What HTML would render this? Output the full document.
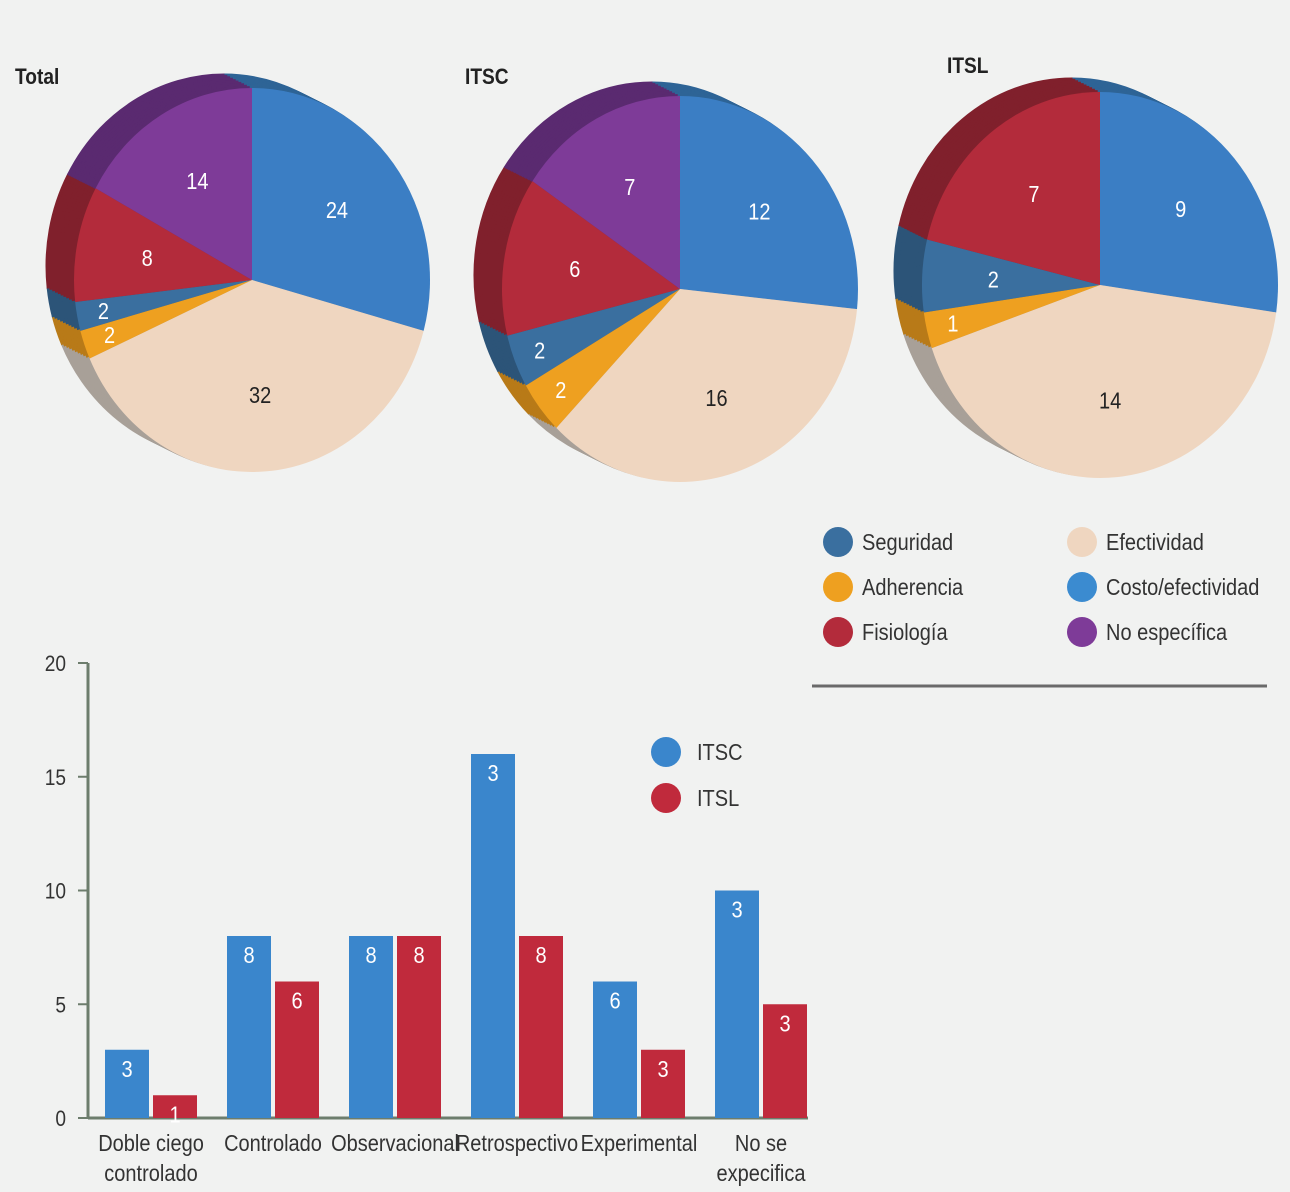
<!DOCTYPE html>
<html><head><meta charset="utf-8"><style>
html,body{margin:0;padding:0;background:#f1f2f1;}
svg{display:block;font-family:"Liberation Sans Narrow","Liberation Sans",sans-serif;}
</style></head><body>
<svg id="root" width="1290" height="1192" viewBox="0 0 1290 1192" xmlns="http://www.w3.org/2000/svg">
<rect width="1290" height="1192" fill="#f1f2f1"/>
<g id="pies"></g>
<g id="legend"></g>
<line x1="812" y1="686" x2="1267" y2="686" stroke="#6a6a6a" stroke-width="3"/>
<g id="bars"></g>
</svg>
<script>
// ---- pie data ----
const pieCategories = ["Costo/efectividad","Efectividad","Adherencia","Seguridad","Fisiología","No específica"];
const pieTotal = [24,32,2,2,8,14];
const pieITSC = [12,16,2,2,6,7];
const pieITSL = [9,14,1,2,7,0];
const pieTitles = ["Total","ITSC","ITSL"];
// ---- bar data ----
const barCategories = [["Doble ciego","controlado"],["Controlado"],["Observacional"],["Retrospectivo"],["Experimental"],["No se","expecifica"]];
const barITSC = [3,8,8,16,6,10];
const barITSL = [1,6,8,8,3,5];
const labelITSC = ["3","8","8","3","6","3"];
const labelITSL = ["1","6","8","8","3","3"];
const yTicks = [0,5,10,15,20];

const NS="http://www.w3.org/2000/svg";
const SX=0.87;
function mk(tag,attrs,parent){const e=document.createElementNS(NS,tag);for(const k in attrs)e.setAttribute(k,attrs[k]);parent.appendChild(e);return e;}
function txt(x,y,str,attrs,parent){
  const a=Object.assign({x:0,y:0,transform:`translate(${x},${y}) scale(${SX},1)`},attrs);
  const t=mk('text',a,parent);t.textContent=str;return t;
}
const faceCol={"Costo/efectividad":"#3b7ec4","Efectividad":"#efd6c0","Adherencia":"#eea020","Seguridad":"#3a6f9f","Fisiología":"#b32b3b","No específica":"#7e3b98"};
const sideCol={"Costo/efectividad":"#2e6496","Efectividad":"#a8a098","Adherencia":"#b87a18","Seguridad":"#2c5478","Fisiología":"#80202c","No específica":"#5a2a70"};
const textCol={"Efectividad":"#222"};

const pieGeom=[{cx:252,cy:280,rx:178,ry:192,tx:15,ty:84},{cx:680,cy:289,rx:178,ry:193,tx:465,ty:84},{cx:1100,cy:285,rx:178,ry:193,tx:947,ty:73}];
const pieData=[pieTotal,pieITSC,pieITSL];
const pies=document.getElementById('pies');
function wedge(g,cx,cy,rx,ry,a0,a1,fill,name){
  const p=(a)=>[cx+rx*Math.sin(a),cy-ry*Math.cos(a)];
  const [x0,y0]=p(a0),[x1,y1]=p(a1);
  const large=(a1-a0)>Math.PI?1:0;
  const el=mk('path',{d:`M${cx},${cy}L${x0},${y0}A${rx},${ry} 0 ${large} 1 ${x1},${y1}Z`,fill:fill},g);
  
  
  return el;
}
pieData.forEach((vals,pi)=>{
  const G=pieGeom[pi];
  const g=mk('g',{},pies);
  
  
  const tot=vals.reduce((a,b)=>a+b,0);
  for(let s=10;s>=1;s--){
    const dx=-28*s/10,dy=-14*s/10;
    let a=0;
    vals.forEach((v,i)=>{ if(!v)return; const a1=a+v/tot*2*Math.PI;
      const el=wedge(g,G.cx+dx,G.cy+dy,G.rx,G.ry,a,a1,sideCol[pieCategories[i]],'pie-side');
      el.setAttribute('stroke',sideCol[pieCategories[i]]);a=a1;});
  }
  let a=0;
  vals.forEach((v,i)=>{ if(!v)return; const a1=a+v/tot*2*Math.PI;
    wedge(g,G.cx,G.cy,G.rx,G.ry,a,a1,faceCol[pieCategories[i]],'slice-'+pieCategories[i].toLowerCase().replace(/[^a-zñí]+/g,'-'));
    const m=(a+a1)/2, fr=v/tot<0.05?0.85:0.6;
    const t=txt(G.cx+G.rx*fr*Math.sin(m),G.cy-G.ry*fr*Math.cos(m)+8,String(v),{'text-anchor':'middle','font-size':23,fill:textCol[pieCategories[i]]||'#fff'},g);
    
    
    a=a1;});
  const tt=txt(G.tx,G.ty,pieTitles[pi],{'font-size':22,'font-weight':'bold',fill:'#222'},g);
  
  
});
// legend
const legOrder=["Seguridad","Efectividad","Adherencia","Costo/efectividad","Fisiología","No específica"];
const leg=document.getElementById('legend');
legOrder.forEach((c,i)=>{
  const col=i%2,row=Math.floor(i/2);
  const x=col?1082:838,y=542+row*45;
  const g=mk('g',{},leg);
  
  
  mk('circle',{cx:x,cy:y,r:15,fill:c==="Costo/efectividad"?"#3b8bd0":faceCol[c]},g);
  txt(x+24,y+8,c,{'font-size':23,fill:'#333'},g);
});
// bar chart
const bars=document.getElementById('bars');
const y0=1118,pxPer=22.75,axX=88;
const yS=v=>y0-v*pxPer;
const groupStart=151, groupStep=122;
const xC=i=>groupStart+i*groupStep;
const bw=44;
mk('line',{x1:axX,y1:yS(20),x2:axX,y2:y0,stroke:'#6d7d6d','stroke-width':3},bars);
mk('line',{x1:axX,y1:y0,x2:808,y2:y0,stroke:'#6d7d6d','stroke-width':3},bars);
yTicks.forEach(v=>{
  mk('line',{x1:axX-10,y1:yS(v),x2:axX,y2:yS(v),stroke:'#6d7d6d','stroke-width':2},bars);
  const t=txt(66,yS(v)+8,String(v),{'text-anchor':'end','font-size':22,fill:'#333'},bars);
  
  
});
barCategories.forEach((c,i)=>{
  [[barITSC,labelITSC,'#3a86cc',-bw-2],[barITSL,labelITSL,'#c02a3c',2]].forEach(([vals,labs,col,off],s)=>{
    const r=mk('rect',{x:xC(i)+off,y:yS(vals[i]),width:bw,height:y0-yS(vals[i]),fill:col},bars);
    
    
    const t=txt(xC(i)+off+bw/2,yS(vals[i])+27,labs[i],{'text-anchor':'middle','font-size':23,fill:'#fff'},bars);
    
    
  });
  c.forEach((ln,k)=>{const t=txt(xC(i),1151+k*30,ln,{'text-anchor':'middle','font-size':23,fill:'#333'},bars);
    
    });
});
[["ITSC","#3a86cc",752],["ITSL","#c02a3c",798]].forEach(([n,col,y])=>{
  const g=mk('g',{},bars);
  
  
  mk('circle',{cx:666,cy:y,r:15,fill:col},g);
  txt(697,y+8,n,{'font-size':23,fill:'#333'},g);
});
</script>
</body></html>
